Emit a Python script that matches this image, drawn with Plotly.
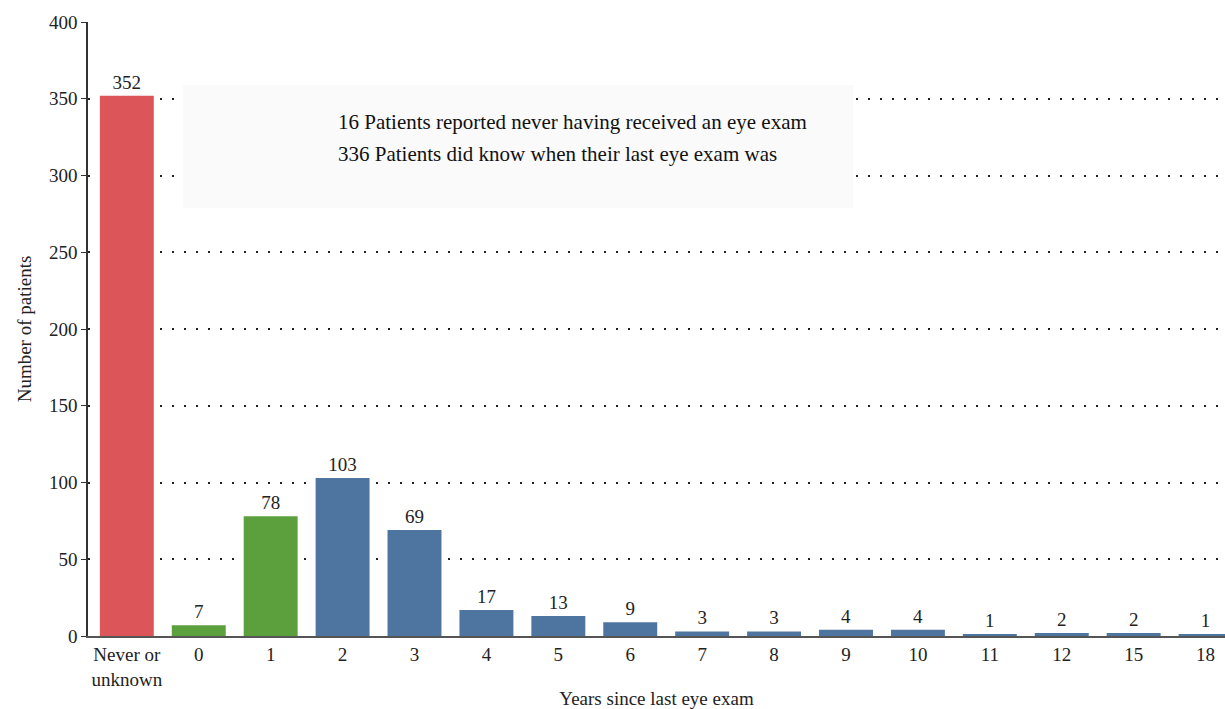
import plotly.graph_objects as go

categories = ["Never or<br>unknown", "0", "1", "2", "3", "4", "5", "6", "7", "8", "9", "10", "11", "12", "15", "18"]
values = [352, 7, 78, 103, 69, 17, 13, 9, 3, 3, 4, 4, 1, 2, 2, 1]
groups = ["never", "recent", "recent", "old", "old", "old", "old", "old", "old", "old", "old", "old", "old", "old", "old", "old"]
group_colors = {"never": "#DC5558", "recent": "#5BA03D", "old": "#4E74A0"}
y_ticks = [0, 50, 100, 150, 200, 250, 300, 350, 400]
note_lines = ["16 Patients reported never having received an eye exam",
              "336 Patients did know when their last eye exam was"]
note_y = [335, 314]

FONT = "Liberation Serif, DejaVu Serif, serif"
idx = list(range(len(categories)))

fig = go.Figure()
fig.add_trace(go.Bar(
    x=idx, y=values,
    marker=dict(color=[group_colors[g] for g in groups], line=dict(width=0)),
    width=0.75,
    text=[str(v) for v in values], textposition="outside",
    textfont=dict(family=FONT, size=19, color="#222"),
    cliponaxis=False,
))

fig.add_shape(type="rect", xref="x", yref="y", x0=0.78, x1=10.1, y0=279, y1=359,
              fillcolor="#FAFAFA", line=dict(width=0), layer="above")
for line, yv in zip(note_lines, note_y):
    fig.add_annotation(x=2.91, y=yv, xref="x", yref="y", xanchor="left", yanchor="middle",
                       align="left", showarrow=False, text=line,
                       font=dict(family=FONT, size=21, color="#111"))

fig.update_layout(
    width=1225, height=709,
    margin=dict(l=88, r=0, t=22, b=73),
    paper_bgcolor="white", plot_bgcolor="white",
    showlegend=False,
    font=dict(family=FONT, size=19, color="#222"),
    xaxis=dict(
        range=[-0.54, 15.27],
        tickmode="array", tickvals=idx, ticktext=categories,
        showgrid=False, zeroline=False,
        showline=True, linecolor="#555", linewidth=2,
        ticks="", tickfont=dict(family=FONT, size=19, color="#222"),
        automargin=False,
        title=dict(text="Years since last eye exam", font=dict(family=FONT, size=19, color="#222"), standoff=14),
    ),
    yaxis=dict(
        range=[0, 400],
        tickmode="array", tickvals=y_ticks,
        showgrid=True, gridcolor="#222", gridwidth=1.5, griddash="2px,10px",
        zeroline=False,
        showline=True, linecolor="#333", linewidth=1.5,
        ticks="outside", ticklen=5, tickcolor="#333",
        tickfont=dict(family=FONT, size=19, color="#222"),
        automargin=False,
        title=dict(text="Number of patients", font=dict(family=FONT, size=19, color="#222"), standoff=12),
    ),
)

fig.write_html("out.html", config={"displayModeBar": False},
               post_script="document.body.style.margin='0';document.body.style.overflow='hidden';")
